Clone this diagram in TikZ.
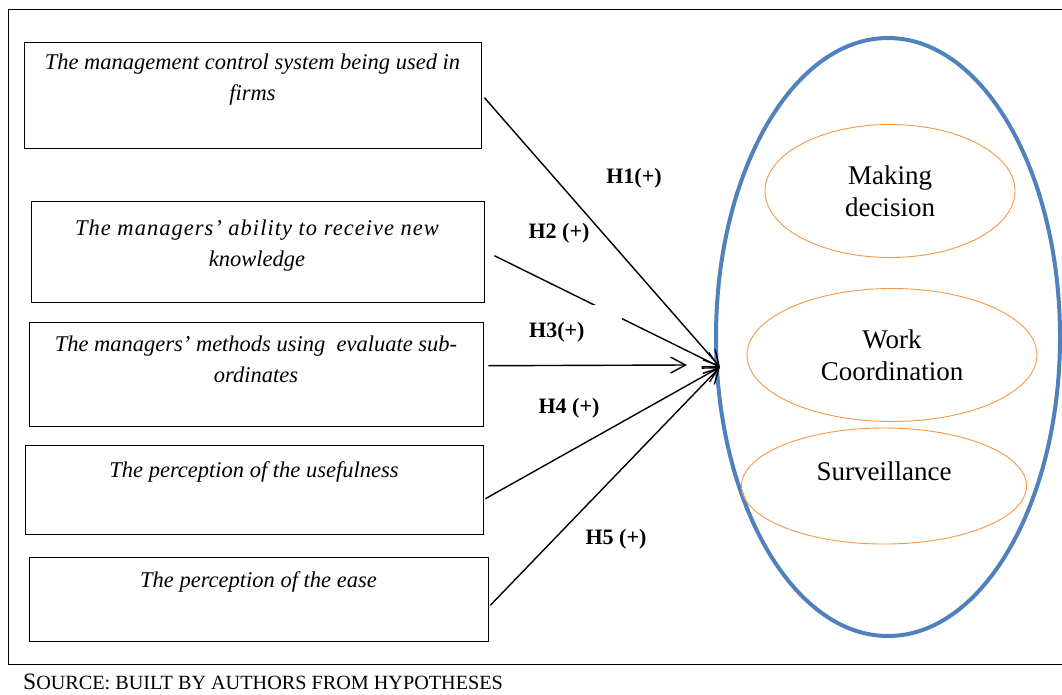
\documentclass[tikz,border=0pt]{standalone}
\usepackage{fontspec}
\setmainfont{Liberation Serif}
\usetikzlibrary{arrows.meta,shapes.geometric}
\definecolor{frameblue}{RGB}{79,129,189}
\definecolor{ellorange}{RGB}{247,150,70}
\begin{document}
\begin{tikzpicture}[x=1pt,y=-1pt,
  box/.style={draw=black, line width=1.4pt, rectangle, anchor=north west, inner sep=0pt},
  boxtext/.style={font=\fontsize{22.5}{31}\selectfont\itshape, align=center, anchor=north, inner sep=0pt},
  conn/.style={draw=black, line width=1.4pt, -{Straight Barb[length=15pt,width=16pt,line width=1.4pt]}},
  hyp/.style={font=\fontsize{22}{26}\selectfont\bfseries, anchor=base, inner sep=0pt},
  sub/.style={draw=ellorange, line width=0.9pt, ellipse, inner sep=0pt, font=\fontsize{27}{32}\selectfont, align=center},
  subtext/.style={font=\fontsize{27}{32}\selectfont, anchor=base, inner sep=0pt},
  frame/.style={draw=black, line width=1pt},
]
\useasboundingbox (0,0) rectangle (1062,694);

% frame
\coordinate (fbl) at (8,664);
\coordinate (ftl) at (8,9);
\coordinate (ftr) at (1062,9);
\coordinate (fbr) at (1062,664);
\draw[frame] (fbl) -- (ftl) -- (ftr);
\draw[frame] (fbl) -- (fbr);

% outer ellipse and sub-ellipses
\node[ellipse, draw=frameblue, line width=4pt, minimum width=344pt, minimum height=598pt, inner sep=0pt] (big) at (888,337) {};
\node[sub, minimum width=250pt, minimum height=133pt] (md) at (890,191) {Making\\decision};
\node[sub, minimum width=290pt, minimum height=133pt] (wc) at (892,355) {Work\\Coordination};
\node[sub, minimum width=285pt, minimum height=116pt] (sv) at (884,486) {};
\node[subtext] (svt) at (884,480) {Surveillance};

% boxes
\node[box, minimum width=457pt, minimum height=106pt] (b1) at (24,42) {};
\node[box, minimum width=453pt, minimum height=101pt] (b2) at (31,201) {};
\node[box, minimum width=454pt, minimum height=104pt] (b3) at (29,322) {};
\node[box, minimum width=458pt, minimum height=89pt] (b4) at (25,445) {};
\node[box, minimum width=459pt, minimum height=84pt] (b5) at (29,557) {};

\node[boxtext] (t1) at (252.5,54) {The management control system being used in\\firms};
\node[boxtext] (t2) at (257,220) {{\addfontfeature{LetterSpace=4.5}The managers’ ability to receive new}\\knowledge};
\node[boxtext] (t3) at (256,336) {The managers’ methods using\ \ evaluate sub-\\ordinates};
\node[boxtext] (t4) at (254,461) {The perception of the usefulness};
\node[boxtext] (t5) at (258.5,571) {The perception of the ease};

% targets
\coordinate (tip) at (720,367);
\coordinate (tip3) at (687,365);

% connectors
\draw[conn] ([xshift=2pt,yshift=-2pt]b1.east) -- (tip);
\draw[conn] ([xshift=9pt,yshift=-3.5pt]b2.east) -- (tip);
\draw[conn] ([xshift=4pt,yshift=9pt]b3.east) -- (tip3);
\draw[conn] ([xshift=1pt,yshift=-8.5pt]b4.east) -- (tip);
\draw[conn] ([xshift=1pt,yshift=-5.5pt]b5.east) -- (tip);

% hypothesis labels
\node[hyp] (h1) at (634,183) {H1(+)};
\node[hyp] (h2) at (559,238) {H2 (+)};
\node[hyp, fill=white, minimum width=130pt, minimum height=55pt, anchor=north east] (h3) at (622,305) {H3(+)};
\node[hyp] (h4) at (569,413) {H4 (+)};
\node[hyp] (h5) at (616,544) {H5 (+)};

% source
\node[anchor=base west, inner sep=0pt] (src) at (23,689) {{\fontsize{23.5}{23}\selectfont S}{\fontsize{20.2}{20}\selectfont OURCE: BUILT BY AUTHORS FROM HYPOTHESES}};
\end{tikzpicture}
\end{document}
